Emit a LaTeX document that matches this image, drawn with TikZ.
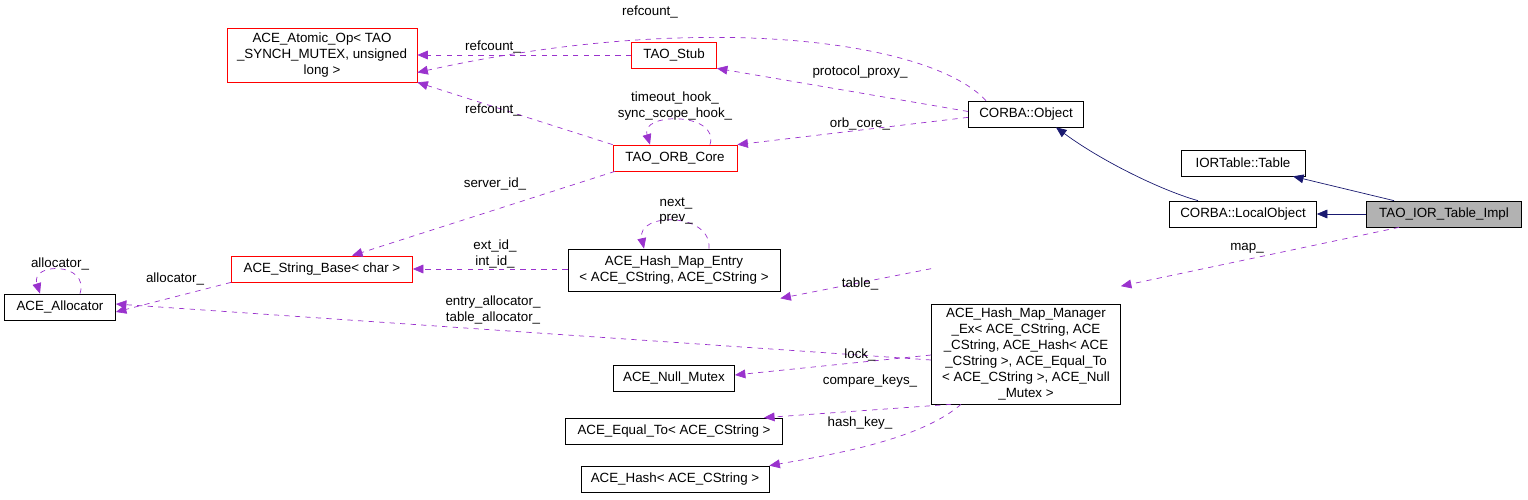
\documentclass[tikz,border=0pt]{standalone}
\usepackage{fontspec}
\setmainfont{Liberation Sans}
\usetikzlibrary{arrows.meta,positioning}
\definecolor{edgepurple}{HTML}{9A32CD}
\definecolor{edgenavy}{HTML}{191970}
\begin{document}
\begin{tikzpicture}[x=0.02cm,y=-0.02cm,
    box/.style={rectangle, draw, inner sep=1pt, align=center, font=\fontsize{7.6}{9}\selectfont, minimum height=0.52cm},
    redbox/.style={box, draw=red},
    lbl/.style={font=\fontsize{7.6}{8.6}\selectfont, align=center, inner sep=0pt},
    uses/.style={-{Triangle[length=6pt,width=5pt]}, dashed, edgepurple},
    isa/.style={-{Triangle[length=6pt,width=5pt]}, edgenavy}
]
\useasboundingbox (0,0) rectangle (1528,500);

% classes
\node[redbox, minimum width=3.8cm, minimum height=1.08cm] (atomic) at (322,55) {ACE\_Atomic\_Op< TAO\\\_SYNCH\_MUTEX, unsigned\\long >};
\node[redbox, minimum width=1.7cm] (stub) at (674,55) {TAO\_Stub};
\node[box, minimum width=2.3cm] (obj) at (1026,114) {CORBA::Object};
\node[redbox, minimum width=2.48cm] (core) at (675,158) {TAO\_ORB\_Core};
\node[box, minimum width=2.48cm] (iortab) at (1243,163) {IORTable::Table};
\node[box, minimum width=2.94cm] (local) at (1243,214) {CORBA::LocalObject};
\node[box, fill=gray!60, minimum width=3.1cm] (impl) at (1444,214) {TAO\_IOR\_Table\_Impl};
\node[redbox, minimum width=3.62cm] (strbase) at (322,269) {ACE\_String\_Base< char >};
\node[box, minimum width=4.24cm, minimum height=0.84cm] (entry) at (674,270) {ACE\_Hash\_Map\_Entry\\< ACE\_CString, ACE\_CString >};
\node[box, minimum width=2.22cm] (alloc) at (60,307) {ACE\_Allocator};
\node[box, minimum width=3.78cm, minimum height=2cm] (mgr) at (1026,354) {ACE\_Hash\_Map\_Manager\\\_Ex< ACE\_CString, ACE\\\_CString, ACE\_Hash< ACE\\\_CString >, ACE\_Equal\_To\\< ACE\_CString >, ACE\_Null\\\_Mutex >};
\node[box, minimum width=2.42cm] (mutex) at (674,378) {ACE\_Null\_Mutex};
\node[box, minimum width=4.34cm] (equal) at (674,431) {ACE\_Equal\_To< ACE\_CString >};
\node[box, minimum width=3.76cm] (hash) at (675,479) {ACE\_Hash< ACE\_CString >};

% inheritance
\draw[isa] ([xshift=-0.9cm]local.north) .. controls (1160,190) and (1100,160) .. ([xshift=0.6cm]obj.south);
\draw[isa] ([xshift=-1cm]impl.north) -- ([xshift=1cm]iortab.south);
\draw[isa] (impl) -- (local);

% usage
\draw[uses] ([xshift=-0.8cm]obj.north) .. controls (930,40) and (700,10) .. ([yshift=-0.35cm]atomic.east);
\draw[uses] (stub) -- (atomic.east |- stub);
\draw[uses] ([yshift=0.05cm]obj.west) -- (stub.south east);
\draw[uses] (core.north west) -- (atomic.south east);
\draw[uses] ([yshift=0.2cm]obj.south west) -- (core.north east);
\draw[uses] ([xshift=0.7cm]core.north) .. controls (720,112) and (640,112) .. ([xshift=-0.5cm]core.north);
\draw[uses] ([xshift=-1.2cm]core.south) -- ([xshift=0.6cm]strbase.north);
\draw[uses] (entry.west |- strbase) -- (strbase.east);
\draw[uses] ([xshift=0.7cm]entry.north) .. controls (712,212) and (636,212) .. ([xshift=-0.6cm]entry.north);
\draw[uses] (strbase.south west) -- ([yshift=-0.1cm]alloc.east);
\draw[uses] ([xshift=0.4cm]alloc.north) .. controls (90,262) and (30,262) .. ([xshift=-0.4cm]alloc.north);
\draw[uses] ([yshift=-0.12cm]mgr.west) -- ([yshift=0.06cm]alloc.east);
\draw[uses] ([yshift=0.7cm]mgr.north west) -- ([yshift=-0.14cm]entry.south east);
\draw[uses] ([xshift=-0.9cm]impl.south) -- ([yshift=0.35cm]mgr.north east);
\draw[uses] (mgr.west |- 355,355) -- ([yshift=0.06cm]mutex.east);
\draw[uses] ([xshift=-1.5cm]mgr.south) -- ([xshift=1.8cm]equal.north);
\draw[uses] ([xshift=-1.3cm]mgr.south) .. controls (920,440) and (830,455) .. (hash.north east);

% labels
\node[lbl] (l1) at (650,12) {refcount\_};
\node[lbl] (l2) at (493,47) {refcount\_};
\node[lbl] (l3) at (860,72) {protocol\_proxy\_};
\node[lbl] (l4) at (493,110) {refcount\_};
\node[lbl] (l5) at (675,106) {timeout\_hook\_\\sync\_scope\_hook\_};
\node[lbl] (l6) at (860,124) {orb\_core\_};
\node[lbl] (l7) at (495,184) {server\_id\_};
\node[lbl] (l8) at (495,254) {ext\_id\_\\int\_id\_};
\node[lbl] (l9) at (676,211) {next\_\\prev\_};
\node[lbl] (l10) at (175,279) {allocator\_};
\node[lbl] (l11) at (60,264) {allocator\_};
\node[lbl] (l12) at (493,310) {entry\_allocator\_\\table\_allocator\_};
\node[lbl] (l13) at (860,284) {table\_};
\node[lbl] (l14) at (1247,248) {map\_};
\node[lbl] (l15) at (860,355) {lock\_};
\node[lbl] (l16) at (870,381) {compare\_keys\_};
\node[lbl] (l17) at (860,423) {hash\_key\_};
\end{tikzpicture}
\end{document}
